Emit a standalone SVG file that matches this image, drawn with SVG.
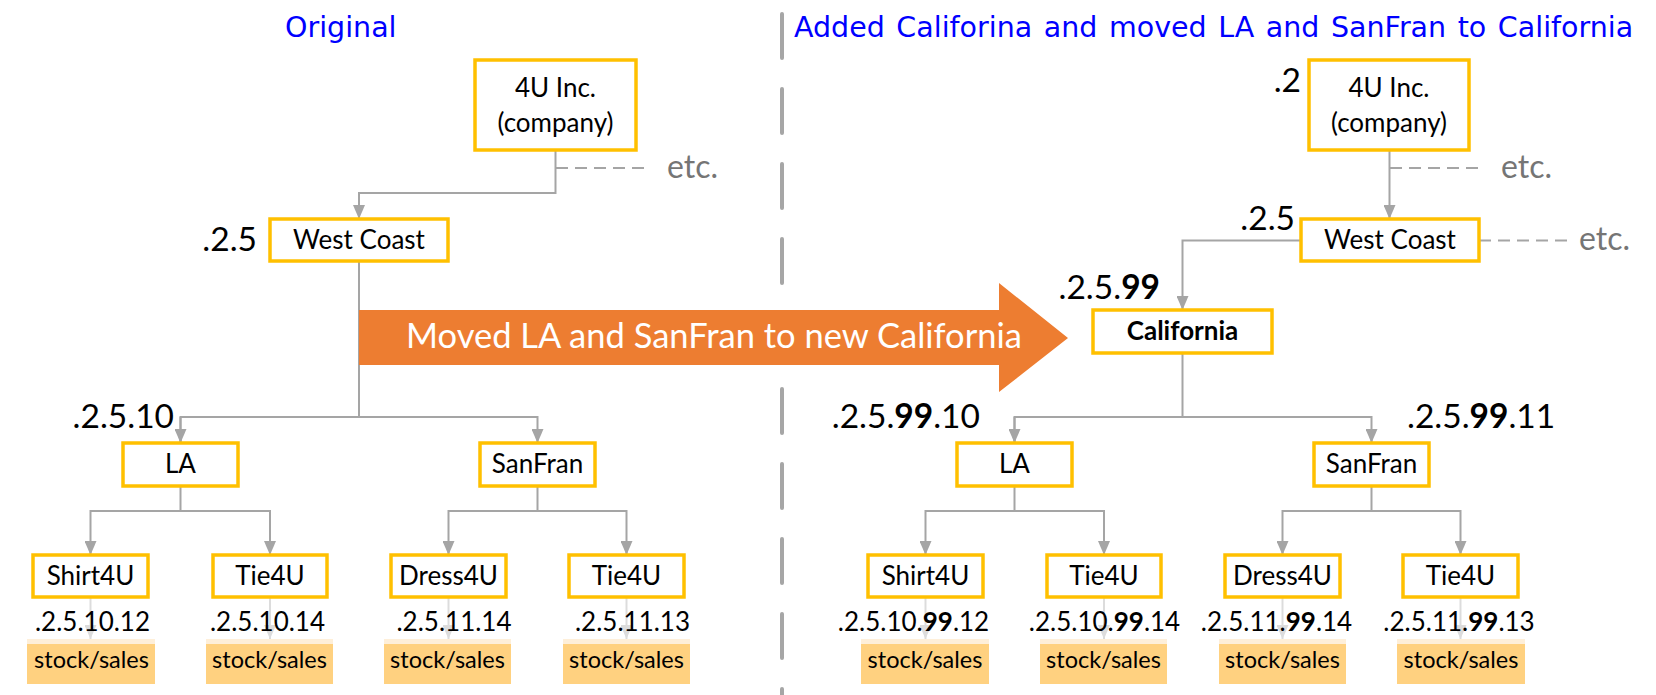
<svg xmlns="http://www.w3.org/2000/svg" width="1656" height="695" viewBox="0 0 1656 695">
<style>
.title{font-family:"DejaVu Sans",sans-serif;font-size:28.5px;fill:#0000FF}
.box{fill:#FFFFFF;stroke:#FFC000;stroke-width:3.5}
.t{font-family:Lato,"Liberation Sans",sans-serif;font-size:26px;fill:#000000;text-anchor:middle}
.st{font-family:Lato,"Liberation Sans",sans-serif;font-size:23.5px;fill:#000000;text-anchor:middle}
.big{font-family:Lato,"Liberation Sans",sans-serif;font-size:33.5px;fill:#000000}
.small{font-family:Lato,"Liberation Sans",sans-serif;font-size:26px;fill:#000000;text-anchor:middle}
.etc{font-family:Lato,"Liberation Sans",sans-serif;font-size:32px;fill:#757575}
.conn{fill:none;stroke:#A5A5A5;stroke-width:2}
.arr{marker-end:url(#ah)}
.dash{fill:none;stroke:#A5A5A5;stroke-width:2;stroke-dasharray:12 7}
.faint{fill:none;stroke:#DCDCDC;stroke-width:2;marker-end:url(#fah)}
.stock{fill:#FFD180}
.band{fill:#FEEFD9}
</style>
<defs>
<marker id="ah" markerUnits="userSpaceOnUse" markerWidth="14" markerHeight="12" refX="14" refY="6" orient="auto"><path d="M0 0 L14 6 L0 12 z" fill="#A5A5A5"/></marker>
<marker id="fah" markerUnits="userSpaceOnUse" markerWidth="14" markerHeight="12" refX="14" refY="6" orient="auto"><path d="M0 0 L14 6 L0 12 z" fill="#DCDCDC"/></marker>
</defs>
<rect width="1656" height="695" fill="#FFFFFF"/>

<text class="title" x="285" y="37">Original</text>
<text class="title" x="794" y="37" word-spacing="2.5">Added Califorina and moved LA and SanFran to California</text>

<line x1="782" y1="14" x2="782" y2="695" stroke="#A6A6A6" stroke-width="4" stroke-linecap="round" stroke-dasharray="44 31"/>

<g id="connectors">
<path class="conn arr" d="M555.5 151 V193 H359 V219"/>
<path class="dash" d="M556 168 H646"/>
<path class="conn" d="M359 261 V417 H180.5 V443"/>
<path class="conn arr" d="M180.5 417 V443"/>
<path class="conn arr" d="M359 417 H537.5 V443"/>
<path class="conn arr" d="M180.5 486 V511 H90.5 V555"/>
<path class="conn arr" d="M180.5 511 H270 V555"/>
<path class="conn arr" d="M537.5 486 V511 H448.5 V555"/>
<path class="conn arr" d="M537.5 511 H626.5 V555"/>
<path class="faint" d="M90.5 598 V639"/>
<path class="faint" d="M270 598 V639"/>
<path class="faint" d="M448.5 598 V639"/>
<path class="faint" d="M626.5 598 V639"/>

<path class="conn arr" d="M1389.5 151 V219"/>
<path class="dash" d="M1390 168 H1481"/>
<path class="dash" d="M1479 240.5 H1567"/>
<path class="conn arr" d="M1301 240.5 H1182.5 V310"/>
<path class="conn" d="M1182.5 353 V417 H1014.5 V443"/>
<path class="conn arr" d="M1014.5 417 V443"/>
<path class="conn arr" d="M1182.5 417 H1371.5 V443"/>
<path class="conn arr" d="M1014.5 486 V511 H925.5 V555"/>
<path class="conn arr" d="M1014.5 511 H1104 V555"/>
<path class="conn arr" d="M1371.5 486 V511 H1282.5 V555"/>
<path class="conn arr" d="M1371.5 511 H1460.5 V555"/>
<path class="faint" d="M925.5 598 V639"/>
<path class="faint" d="M1104 598 V639"/>
<path class="faint" d="M1282.5 598 V639"/>
<path class="faint" d="M1460.5 598 V639"/>
</g>

<g id="move-arrow">
<polygon points="359,310 999,310 999,283 1068,338 999,392 999,365 359,365" fill="#ED7D31"/>
<text x="714" y="348" font-family="Lato, 'Liberation Sans', sans-serif" font-size="34.5" fill="#FFFFFF" text-anchor="middle">Moved LA and SanFran to new California</text>
</g>

<g id="etc-labels">
<text class="etc" x="667" y="178">etc.</text>
<text class="etc" x="1501" y="178">etc.</text>
<text class="etc" x="1579" y="250">etc.</text>
</g>

<!-- Left tree -->
<g id="company-left"><rect class="box" x="475" y="60" width="161" height="90"/><text class="t" x="555.5" y="97">4U Inc.</text><text class="t" x="555.5" y="132">(company)</text></g>
<g id="westcoast-left"><rect class="box" x="270" y="219" width="178" height="42"/><text class="t" x="359" y="249">West Coast</text><text class="big" x="257" y="251" text-anchor="end">.2.5</text></g>
<g id="la-left"><rect class="box" x="123" y="443" width="115" height="43"/><text class="t" x="180.5" y="473">LA</text><text class="big" x="174" y="428" text-anchor="end">.2.5.10</text></g>
<g id="sanfran-left"><rect class="box" x="480" y="443" width="115" height="43"/><text class="t" x="537.5" y="473">SanFran</text></g>
<g id="shirt-left"><rect class="box" x="33" y="555" width="115" height="42"/><text class="t" x="90.5" y="585">Shirt4U</text><text class="small" x="92.5" y="631">.2.5.10.12</text></g>
<g id="tie1-left"><rect class="box" x="213" y="555" width="114" height="42"/><text class="t" x="270" y="585">Tie4U</text><text class="small" x="267.5" y="631">.2.5.10.14</text></g>
<g id="dress-left"><rect class="box" x="391" y="555" width="115" height="42"/><text class="t" x="448.5" y="585">Dress4U</text><text class="small" x="454" y="631">.2.5.11.14</text></g>
<g id="tie2-left"><rect class="box" x="569" y="555" width="115" height="42"/><text class="t" x="626.5" y="585">Tie4U</text><text class="small" x="632.5" y="631">.2.5.11.13</text></g>
<g id="stock1-left"><rect class="stock" x="27" y="639" width="128" height="45"/><rect class="band" x="27" y="639" width="128" height="5"/><text class="st" x="91.5" y="668">stock/sales</text></g>
<g id="stock2-left"><rect class="stock" x="206" y="639" width="127" height="45"/><rect class="band" x="206" y="639" width="127" height="5"/><text class="st" x="269.5" y="668">stock/sales</text></g>
<g id="stock3-left"><rect class="stock" x="384" y="639" width="127" height="45"/><rect class="band" x="384" y="639" width="127" height="5"/><text class="st" x="447.5" y="668">stock/sales</text></g>
<g id="stock4-left"><rect class="stock" x="563" y="639" width="127" height="45"/><rect class="band" x="563" y="639" width="127" height="5"/><text class="st" x="626.5" y="668">stock/sales</text></g>

<!-- Right tree -->
<g id="company-right"><rect class="box" x="1309" y="60" width="160" height="90"/><text class="t" x="1389" y="97">4U Inc.</text><text class="t" x="1389" y="132">(company)</text><text class="big" x="1301" y="92" text-anchor="end">.2</text></g>
<g id="westcoast-right"><rect class="box" x="1301" y="219" width="178" height="42"/><text class="t" x="1390" y="249">West Coast</text><text class="big" x="1295" y="230" text-anchor="end">.2.5</text></g>
<g id="california"><rect class="box" x="1093" y="310" width="179" height="43"/><text class="t" x="1182.5" y="340" font-weight="bold" font-size="26.5">California</text><text class="big" x="1160" y="299" text-anchor="end">.2.5.<tspan font-weight="bold">99</tspan></text></g>
<g id="la-right"><rect class="box" x="957" y="443" width="115" height="43"/><text class="t" x="1014.5" y="473">LA</text><text class="big" x="980" y="428" text-anchor="end">.2.5.<tspan font-weight="bold">99</tspan>.10</text></g>
<g id="sanfran-right"><rect class="box" x="1314" y="443" width="115" height="43"/><text class="t" x="1371.5" y="473">SanFran</text><text class="big" x="1407" y="428">.2.5.<tspan font-weight="bold">99</tspan>.11</text></g>
<g id="shirt-right"><rect class="box" x="868" y="555" width="115" height="42"/><text class="t" x="925.5" y="585">Shirt4U</text><text class="small" x="913.5" y="631">.2.5.10.<tspan font-weight="bold">99</tspan>.12</text></g>
<g id="tie1-right"><rect class="box" x="1047" y="555" width="114" height="42"/><text class="t" x="1104" y="585">Tie4U</text><text class="small" x="1104.5" y="631">.2.5.10.<tspan font-weight="bold">99</tspan>.14</text></g>
<g id="dress-right"><rect class="box" x="1225" y="555" width="115" height="42"/><text class="t" x="1282.5" y="585">Dress4U</text><text class="small" x="1276.5" y="631">.2.5.11.<tspan font-weight="bold">99</tspan>.14</text></g>
<g id="tie2-right"><rect class="box" x="1403" y="555" width="115" height="42"/><text class="t" x="1460.5" y="585">Tie4U</text><text class="small" x="1459" y="631">.2.5.11.<tspan font-weight="bold">99</tspan>.13</text></g>
<g id="stock1-right"><rect class="stock" x="861" y="639" width="128" height="45"/><rect class="band" x="861" y="639" width="128" height="5"/><text class="st" x="925" y="668">stock/sales</text></g>
<g id="stock2-right"><rect class="stock" x="1040" y="639" width="127" height="45"/><rect class="band" x="1040" y="639" width="127" height="5"/><text class="st" x="1103.5" y="668">stock/sales</text></g>
<g id="stock3-right"><rect class="stock" x="1219" y="639" width="127" height="45"/><rect class="band" x="1219" y="639" width="127" height="5"/><text class="st" x="1282.5" y="668">stock/sales</text></g>
<g id="stock4-right"><rect class="stock" x="1397" y="639" width="128" height="45"/><rect class="band" x="1397" y="639" width="128" height="5"/><text class="st" x="1461" y="668">stock/sales</text></g>
</svg>
